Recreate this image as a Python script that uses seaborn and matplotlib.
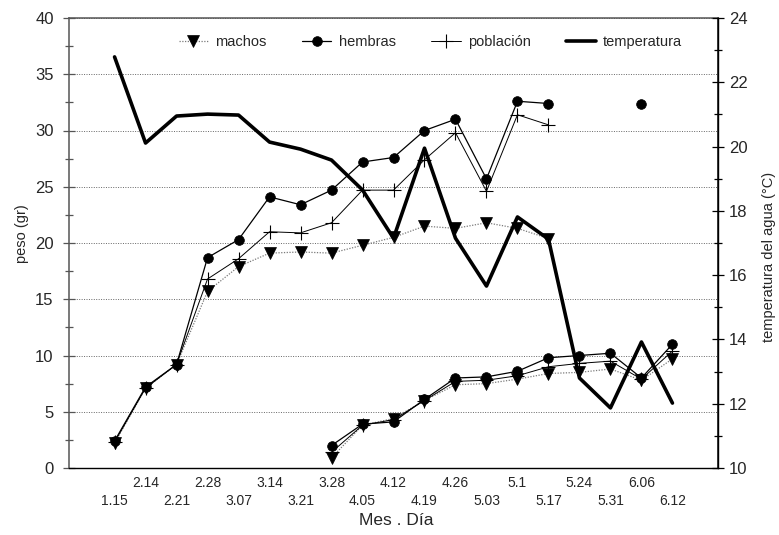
import numpy as np
import pandas as pd
import matplotlib
matplotlib.use("Agg")
import matplotlib.pyplot as plt
import seaborn as sns
from matplotlib.lines import Line2D
from matplotlib.ticker import MultipleLocator

# ---------------- data ----------------
fechas = ['1.15', '2.14', '2.21', '2.28', '3.07', '3.14', '3.21', '3.28', '4.05', '4.12',
          '4.19', '4.26', '5.03', '5.1', '5.17', '5.24', '5.31', '6.06', '6.12']

temperatura = [22.79, 20.11, 20.95, 21.01, 20.98, 20.14, 19.92, 19.58, 18.65, 17.15,
               19.95, 17.15, 15.66, 17.81, 17.12, 12.80, 11.87, 13.92, 12.02]

# first cohort: 1.15 .. 5.17
fechas_c1 = fechas[:15]
machos_c1 = [2.2, 7.1, 9.2, 15.7, 17.9, 19.1, 19.2, 19.1, 19.8, 20.5, 21.5, 21.3, 21.8, 21.3, 20.4]
hembras_c1 = [2.4, 7.2, 9.2, 18.7, 20.3, 24.1, 23.4, 24.7, 27.2, 27.6, 30.0, 31.0, 25.7, 32.6, 32.4]
poblacion_c1 = [2.3, 7.1, 9.2, 16.8, 18.6, 21.0, 20.9, 21.8, 24.7, 24.7, 27.4, 29.8, 24.6, 31.4, 30.5]

# isolated hembras value of the first cohort
fechas_c1_extra = ['6.06']
hembras_c1_extra = [32.4]

# second cohort: 3.28 .. 6.12
fechas_c2 = fechas[7:]
machos_c2 = [0.9, 3.8, 4.4, 6.0, 7.4, 7.5, 7.9, 8.4, 8.5, 8.8, 7.8, 9.7]
hembras_c2 = [2.0, 3.9, 4.1, 6.1, 8.0, 8.1, 8.6, 9.8, 10.0, 10.2, 8.0, 11.0]
poblacion_c2 = [1.4, 3.8, 4.3, 6.0, 7.7, 7.8, 8.2, 9.0, 9.3, 9.5, 7.9, 10.4]

# ---------------- style ----------------
sns.set_theme(style="white")
plt.rcParams['font.family'] = ['Liberation Sans', 'DejaVu Sans']

pos_of = {f: i + 1 for i, f in enumerate(fechas)}

styles = {
    'machos': dict(color='#7a7a7a', linestyle=(0, (1, 1.2)), linewidth=0.9, marker='v',
                   markersize=9, markerfacecolor='black', markeredgecolor='black', markeredgewidth=0.5),
    'hembras': dict(color='black', linestyle='-', linewidth=0.9, marker='o',
                    markersize=7, markerfacecolor='black', markeredgecolor='black', markeredgewidth=0.5),
    'población': dict(color='black', linestyle='-', linewidth=0.7, marker='+',
                      markersize=10, markerfacecolor='black', markeredgecolor='black', markeredgewidth=0.8),
}

fig = plt.figure(figsize=(7.79, 5.35), dpi=100)
ax = fig.add_axes([69 / 779, 1 - 468 / 535, (718 - 69) / 779, (468 - 18) / 535])

series = [
    ('machos', fechas_c1, machos_c1), ('población', fechas_c1, poblacion_c1), ('hembras', fechas_c1, hembras_c1),
    ('machos', fechas_c2, machos_c2), ('población', fechas_c2, poblacion_c2), ('hembras', fechas_c2, hembras_c2),
]
for name, fx, vals in series:
    df = pd.DataFrame({'x': [pos_of[f] for f in fx], 'y': vals})
    sns.lineplot(data=df, x='x', y='y', ax=ax, estimator=None, sort=False, legend=False, **styles[name])

df_extra = pd.DataFrame({'x': [pos_of[f] for f in fechas_c1_extra], 'y': hembras_c1_extra})
st = dict(styles['hembras']); st['linestyle'] = 'none'
sns.lineplot(data=df_extra, x='x', y='y', ax=ax, estimator=None, legend=False, **st)

ax.set_xlim(-0.47, 20.47)
ax.set_ylim(0, 40)
ax.yaxis.set_major_locator(MultipleLocator(5))
ax.yaxis.set_minor_locator(MultipleLocator(2.5))
ax.yaxis.grid(True, which='major', color='#666666', linestyle=(0, (1, 1.5)), linewidth=0.7)
ax.xaxis.grid(False)

ax.set_xticks(range(0, 21))
xt = [''] + [('\n' + f if i % 2 == 0 else f) for i, f in enumerate(fechas)] + ['']
ax.set_xticklabels(xt, fontsize=10, linespacing=1.35)
ax.tick_params(axis='x', direction='inout', length=8, width=0.9, color='black', pad=2)
ax.tick_params(axis='y', which='major', direction='inout', length=8, width=0.9, color='#555555',
               labelsize=12, pad=7)
ax.tick_params(axis='y', which='minor', direction='inout', length=6, width=0.9, color='#555555', left=True)
ax.set_xlabel('Mes . Día', fontsize=12.5)
ax.xaxis.set_label_coords(0.505, -0.10)
ax.set_ylabel('peso (gr)', fontsize=10.5)
ax.yaxis.set_label_coords(-0.062, 0.52)

for side in ['left', 'top']:
    ax.spines[side].set_color('#555555')
    ax.spines[side].set_linewidth(1.1)
ax.spines['bottom'].set_color('black')
ax.spines['bottom'].set_linewidth(1.0)

# ---------------- temperature ----------------
ax2 = ax.twinx()
dft = pd.DataFrame({'x': [pos_of[f] for f in fechas], 'y': temperatura})
sns.lineplot(data=dft, x='x', y='y', ax=ax2, estimator=None, sort=False, legend=False,
             color='black', linewidth=2.6)
ax2.set_ylim(10, 24)
ax2.set_xlim(-0.47, 20.47)
ax2.yaxis.set_major_locator(MultipleLocator(2))
ax2.yaxis.set_minor_locator(MultipleLocator(1))
ax2.tick_params(axis='y', which='major', direction='inout', length=8, width=0.9, color='black',
                labelsize=12, pad=4)
ax2.tick_params(axis='y', which='minor', direction='inout', length=6, width=0.9, color='black', right=True)
ax2.grid(False)
ax2.set_ylabel('temperatura del agua (°C)', fontsize=10.5, rotation=90)
ax2.yaxis.set_label_coords(1.068, 0.47)
ax2.spines['right'].set_color('black')
ax2.spines['right'].set_linewidth(1.0)
for side in ['left', 'top', 'bottom']:
    ax2.spines[side].set_visible(False)

handles = [
    Line2D([], [], **styles['machos']),
    Line2D([], [], **styles['hembras']),
    Line2D([], [], **styles['población']),
    Line2D([], [], color='black', linewidth=2.6),
]
labels = ['machos', 'hembras', 'población', 'temperatura']
ax2.legend(handles, labels, loc='upper left', bbox_to_anchor=(0.16, 0.975), ncol=4, frameon=False,
           fontsize=10.5, handlelength=2.0, handletextpad=0.5, columnspacing=2.45, borderaxespad=0)

fig.savefig('out.png', dpi=100)
